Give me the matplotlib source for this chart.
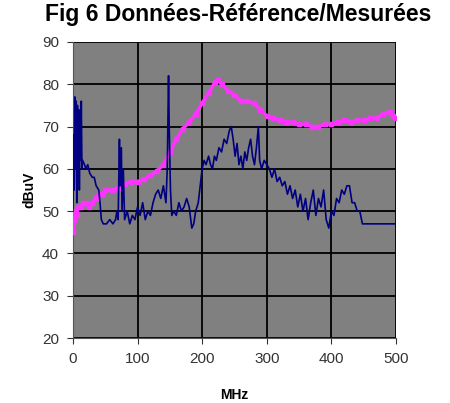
import matplotlib
matplotlib.use('Agg')
import matplotlib.pyplot as plt

plt.rcParams['font.family'] = ['Liberation Sans', 'DejaVu Sans']

# measured values (MHz, dBuV)
mes_f = [0, 1, 2, 3, 4, 5, 6, 7, 8, 9, 10, 11, 12, 13, 14, 15, 18, 20, 23, 26,
         30, 33, 36, 40, 42, 44, 47, 52, 57, 62, 66, 68, 70, 72, 73, 75, 76, 78, 80, 84,
         88, 92, 96, 100, 104, 108, 112, 116, 120, 124, 128, 132, 136, 140, 144, 146, 148, 149, 151, 153,
         156, 160, 164, 168, 172, 176, 180, 184, 187, 190, 194, 197, 200, 203, 206, 210, 213, 216, 219, 222,
         226, 230, 234, 238, 242, 245, 248, 251, 254, 257, 260, 263, 266, 269, 272, 275, 278, 281, 284, 287,
         289, 292, 296, 300, 304, 308, 312, 316, 320, 324, 328, 332, 336, 340, 344, 348, 352, 356, 360, 364,
         368, 372, 376, 380, 384, 388, 392, 396, 400, 404, 408, 412, 416, 420, 424, 428, 432, 436, 440, 444,
         448, 452, 500]
mes_db = [50, 68, 55, 77, 60, 76, 52, 75, 58, 74, 55, 70, 62, 76, 60, 62, 61, 60, 61, 59,
          58, 58, 56, 55, 52, 48, 47, 47, 48, 47, 48, 50, 48, 67, 56, 65, 50, 60, 48, 50,
          47, 49, 48, 51, 49, 52, 48, 50, 49, 52, 54, 55, 53, 56, 52, 60, 82, 70, 55, 49,
          50, 49, 52, 50, 51, 53, 51, 46, 47, 50, 52, 56, 60, 62, 61, 63, 61, 60, 63, 62,
          65, 64, 67, 66, 69, 70, 67, 63, 66, 61, 63, 60, 64, 62, 65, 67, 63, 61, 65, 70,
          62, 60, 62, 61, 60, 58, 60, 57, 58, 56, 57, 54, 56, 53, 55, 51, 54, 50, 53, 48,
          52, 55, 49, 53, 51, 55, 48, 46, 50, 49, 53, 52, 55, 54, 56, 56, 52, 52, 50, 50,
          47, 47, 47]

# reference values (MHz, dBuV)
ref_f = [0, 2, 4, 6, 8, 12, 16, 20, 25, 30, 35, 40, 45, 50, 60, 70, 80, 90, 100, 110,
         120, 130, 140, 150, 160, 170, 180, 190, 200, 210, 220, 225, 230, 240, 250, 260, 270, 280, 290, 300,
         310, 320, 330, 340, 350, 360, 370, 380, 390, 400, 410, 420, 430, 440, 450, 460, 470, 480, 490, 495,
         500]
ref_db = [45, 48, 50, 49, 51, 51, 52, 52, 51, 52, 53, 54, 54, 55, 55, 55.5, 56.5, 57, 57, 57.5,
          58.5, 59.5, 61, 64, 67, 69.5, 71, 73, 75.5, 78, 80.5, 81, 80, 78.5, 77.5, 76, 76, 75.5, 74, 72.5,
          72, 71.5, 71, 71, 70.5, 70.5, 70, 70, 70.5, 70.5, 71, 71.5, 71, 71.5, 71.5, 72, 72, 73, 73.5, 72.5,
          72]

xticks = [0, 100, 200, 300, 400, 500]
yticks = [20, 30, 40, 50, 60, 70, 80, 90]

fig = plt.figure(figsize=(4.5, 4.03), dpi=100)
ax = fig.add_axes([0.162, 0.161, 0.718, 0.735])
ax.set_facecolor('#808080')

ax.plot(ref_f, ref_db, color='#ff33ff', lw=2.5, marker='s', ms=2.5, zorder=3)
ax.plot(mes_f, mes_db, color='#000080', lw=1.2, zorder=4)

ax.set_xlim(0, 500)
ax.set_ylim(20, 90)
ax.set_xticks(xticks)
ax.set_yticks(yticks)
ax.grid(True, color='black', lw=1.3)
ax.set_axisbelow(True)
for s in ax.spines.values():
    s.set_visible(False)
ax.spines['left'].set_visible(True)
ax.spines['bottom'].set_visible(True)
ax.spines['left'].set_color('#555555')
ax.spines['bottom'].set_color('#555555')
ax.tick_params(direction='out', length=4, labelsize=11, pad=6, colors='#333333')

ax.set_xlabel('MHz', fontsize=10, fontweight='bold', labelpad=16)
ax.set_ylabel('dBuV', fontsize=10, fontweight='bold', labelpad=4)
fig.text(0.1, 0.935, 'Fig 6 Données-Référence/Mesurées', fontsize=16.5,
         fontweight='bold', ha='left', va='bottom')

fig.savefig('out.png', dpi=100)
